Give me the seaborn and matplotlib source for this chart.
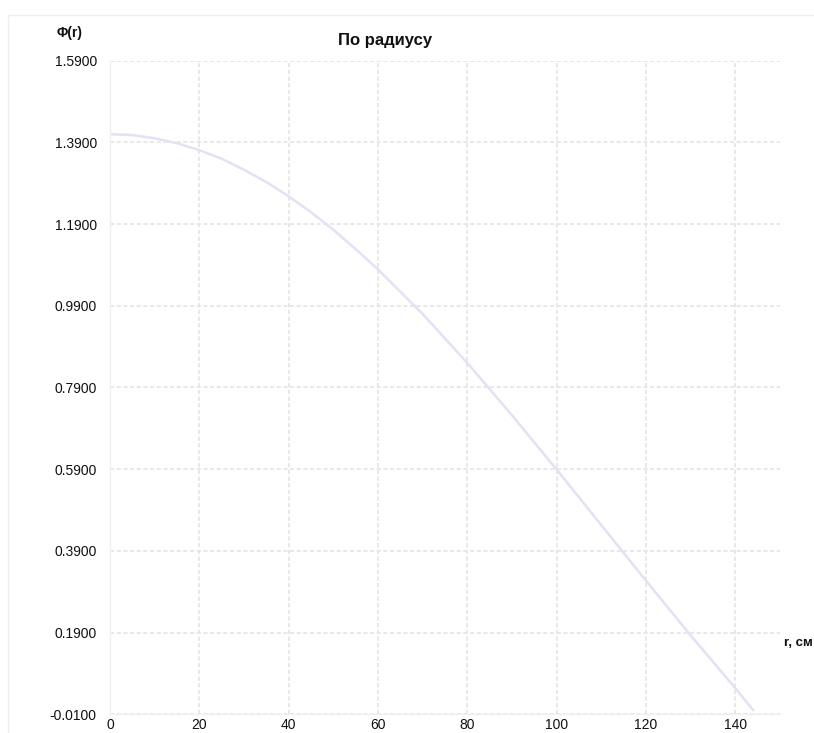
import matplotlib
matplotlib.use("Agg")
import matplotlib.pyplot as plt
from matplotlib.patches import Rectangle
import pandas as pd
import seaborn as sns

# Radial flux profile Φ(r)
radius_cm = [0, 5, 10, 15, 20, 25, 30, 35, 40, 45, 50, 55, 60, 70, 80,
             90, 100, 110, 120, 130, 140, 144]
phi = [1.410, 1.408, 1.400, 1.388, 1.371, 1.350, 1.323, 1.293, 1.258,
       1.219, 1.176, 1.129, 1.079, 0.970, 0.850, 0.722, 0.589, 0.453,
       0.317, 0.183, 0.054, 0.000]

x_ticks = [0, 20, 40, 60, 80, 100, 120, 140]
y_ticks = [-0.01, 0.19, 0.39, 0.59, 0.79, 0.99, 1.19, 1.39, 1.59]

title_text = "По радиусу"
y_label = "Φ(r)"
x_label = "r, см"

df = pd.DataFrame({"r": radius_cm, "phi": phi})

sns.set_theme(style="white")
plt.rcParams["font.family"] = ["Liberation Sans", "DejaVu Sans"]

fig = plt.figure(figsize=(8.14, 7.33), dpi=100)
ax = fig.add_axes([110 / 814, 1 - 714.3 / 733, 670 / 814, (714.3 - 60.7) / 733])

sns.lineplot(data=df, x="r", y="phi", ax=ax, color="#e2e2f5", linewidth=1.8)

ax.set_xlim(0, 150)
ax.set_ylim(-0.01, 1.59)
ax.set_xticks(x_ticks)
ax.set_yticks(y_ticks)
ax.set_xticklabels([str(t) for t in x_ticks])
ax.set_yticklabels([f"{t:.4f}" for t in y_ticks])
ax.set_xlabel("")
ax.set_ylabel("")

ax.tick_params(axis="both", length=0, labelsize=10, labelcolor="#111111")
ax.tick_params(axis="x", pad=2.5)
ax.tick_params(axis="y", pad=9.5)

ax.grid(True, color="#e4e4e4", linewidth=1.2, linestyle=(0, (2.5, 1.5)))
ax.set_axisbelow(True)

for side in ("top", "right"):
    ax.spines[side].set_visible(False)
for side in ("left", "bottom"):
    ax.spines[side].set_color("#f0f0f0")
    ax.spines[side].set_linewidth(1.0)

# light outer frame of the chart panel
fig.patches.append(Rectangle((8 / 814, -0.05), 1.2, 1 - 15 / 733 + 0.05,
                             transform=fig.transFigure, fill=False,
                             edgecolor="#eeeeee", linewidth=1.0))

fig.text(385 / 814, 1 - 41 / 733, title_text, ha="center", va="center",
         fontsize=12, fontweight="bold", color="#111111")
fig.text(70 / 814, 1 - 33 / 733, y_label, ha="center", va="center",
         fontsize=10, fontweight="bold", color="#111111")
fig.text(784 / 814, 1 - 643 / 733, x_label, ha="left", va="center",
         fontsize=9.5, fontweight="bold", color="#111111")

fig.savefig("out.png", dpi=100)
